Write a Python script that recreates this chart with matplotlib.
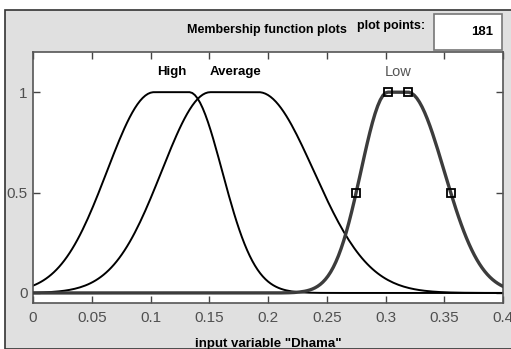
import numpy as np
import matplotlib
matplotlib.use("Agg")
import matplotlib.pyplot as plt
from matplotlib.patches import Rectangle

# gauss2mf params [sig1, c1, sig2, c2]
mf_names = ["High", "Average", "Low"]
mf_params = [
    [0.040, 0.103, 0.028, 0.133],
    [0.0415, 0.151, 0.047, 0.192],
    [0.0229, 0.302, 0.031, 0.319],
]
label_x = [0.118, 0.172, 0.311]
n_points = 181
x_range = [0, 0.4]
x_ticks = [0, 0.05, 0.1, 0.15, 0.2, 0.25, 0.3, 0.35, 0.4]
x_ticklabels = ["0", "0.05", "0.1", "0.15", "0.2", "0.25", "0.3", "0.35", "0.4"]
y_ticks = [0, 0.5, 1]
y_ticklabels = ["0", "0.5", "1"]


def gauss2mf(x, s1, c1, s2, c2):
    y = np.ones_like(x)
    left = x < c1
    right = x > c2
    y[left] = np.exp(-(x[left] - c1) ** 2 / (2 * s1 ** 2))
    y[right] = np.exp(-(x[right] - c2) ** 2 / (2 * s2 ** 2))
    return y


plt.rcParams['font.family'] = ['Liberation Sans', 'DejaVu Sans']

fig = plt.figure(figsize=(5.11, 3.49), dpi=100)
fig.patch.set_facecolor("white")
# grey panel like the matlab window
fig.add_artist(Rectangle((5 / 511, 0), 1, 1 - 10 / 349, transform=fig.transFigure,
                         facecolor="#e0e0e0", edgecolor="#333333", lw=1.2, zorder=0))

ax = fig.add_axes([33 / 511, 46 / 349, 470 / 511, 251 / 349])
ax.set_facecolor("white")

x = np.linspace(x_range[0], x_range[1], n_points)
for i, (name, p) in enumerate(zip(mf_names, mf_params)):
    y = gauss2mf(x, *p)
    if name == "Low":
        ax.plot(x, y, color="#3c3c3c", lw=2.4, zorder=3)
        # selected mf: square handles
        hx = [p[1] - p[0] * np.sqrt(2 * np.log(2)), p[1], p[3],
              p[3] + p[2] * np.sqrt(2 * np.log(2))]
        hy = gauss2mf(np.array(hx), *p)
        ax.plot(hx, hy, ls="none", marker="s", ms=5.5, mfc="none", mec="black",
                mew=1.3, zorder=4)
        ax.text(label_x[i], 1.10, name, ha="center", va="center", fontsize=10.5,
                color="#555555")
    else:
        ax.plot(x, y, color="black", lw=1.4, zorder=2)
        ax.text(label_x[i], 1.10, name, ha="center", va="center", fontsize=9.5,
                color="black", fontweight="bold")

ax.set_xlim(x_range)
ax.set_ylim(-0.05, 1.2)
ax.set_xticks(x_ticks)
ax.set_xticklabels(x_ticklabels)
ax.set_yticks(y_ticks)
ax.set_yticklabels(y_ticklabels)
ax.tick_params(direction="in", length=5, width=1, top=True, right=True,
               labelsize=11, labelcolor="#505050", color="#444444")
ax.tick_params(axis="y", pad=4)
ax.tick_params(axis="x", pad=6)
for s in ax.spines.values():
    s.set_color("#555555")
    s.set_linewidth(1.2)

ax.set_xlabel('input variable "Dhama"', fontsize=9.5, fontweight="bold",
              color="black", labelpad=9)

fig.text(267 / 511, 1 - 30 / 349, "Membership function plots", ha="center",
         va="center", fontsize=9, fontweight="bold")
fig.text(391 / 511, 1 - 26 / 349, "plot points:", ha="center", va="center",
         fontsize=9, fontweight="bold")
fig.add_artist(Rectangle((434 / 511, 1 - 50 / 349), 68 / 511, 36 / 349,
                         transform=fig.transFigure, facecolor="white",
                         edgecolor="#777777", lw=1.2))
fig.text(493 / 511, 1 - 32 / 349, str(n_points), ha="right", va="center",
         fontsize=9.5, fontweight="bold")

fig.savefig("out.png", dpi=100)
